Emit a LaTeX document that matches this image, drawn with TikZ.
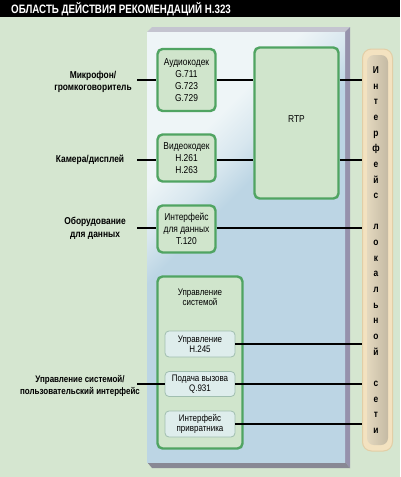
\documentclass[tikz,border=0pt]{standalone}
\usepackage{fontspec}
\setmainfont{Liberation Sans}[FakeStretch=0.84]
\newfontfamily\headfont{Liberation Sans}[FakeStretch=0.8]

\definecolor{bggreen}{RGB}{213,230,208}
\definecolor{paneltop}{RGB}{238,245,247}
\definecolor{panelblue}{RGB}{188,213,228}
\definecolor{edgetop}{RGB}{196,196,208}
\definecolor{edgeside}{RGB}{150,146,172}
\definecolor{edgebottom}{RGB}{136,136,148}
\definecolor{boxfill}{RGB}{208,229,204}
\definecolor{boxgreen}{RGB}{80,164,98}
\definecolor{subfill}{RGB}{222,237,236}
\definecolor{subline}{RGB}{160,190,176}
\definecolor{lancream}{RGB}{243,226,192}
\definecolor{lanedge}{RGB}{226,206,166}
\definecolor{lanlight}{RGB}{228,216,190}
\definecolor{landark}{RGB}{196,186,164}

\pgfdeclareverticalshading{panelfade}{100bp}{color(0bp)=(panelblue); color(57bp)=(panelblue);
	color(62bp)=(panelblue!45!paneltop); color(68bp)=(paneltop); color(100bp)=(paneltop)}

\begin{document}
\begin{tikzpicture}[x=1pt,y=-1pt,
	codec/.style={draw=boxgreen, line width=2.4pt, fill=boxfill, rounded corners=5pt, align=center,
		inner sep=0pt, font=\fontsize{10}{12}\selectfont},
	subbox/.style={draw=subline, line width=0.8pt, fill=subfill, rounded corners=4pt, align=center,
		inner sep=0pt, minimum width=70pt, font=\fontsize{9.5}{10}\selectfont},
	sidelabel/.style={align=center, inner sep=0pt, font=\bfseries\fontsize{10}{12}\selectfont},
	wire/.style={line width=1.3pt}]

\useasboundingbox (0,0) rectangle (400,477);
\fill[bggreen] (0,0) rectangle (400,477);

% title bar
\fill[black] (0,0) rectangle (400,17);
\node[anchor=west, inner sep=0pt, text=white, font=\headfont\bfseries\fontsize{12.2}{12}\selectfont]
	(title) at (11,9) {ОБЛАСТЬ ДЕЙСТВИЯ РЕКОМЕНДАЦИЙ H.323};

% panel
\fill[edgetop] (147,32) -- (152,27) -- (350,27) -- (345,32) -- cycle;
\fill[edgeside] (345,32) -- (350,27) -- (350,468) -- (345,462) -- cycle;
\fill[edgebottom] (147,462) -- (345,462) -- (350,468) -- (152,468) -- cycle;
\shade[shading=panelfade, shading angle=45] (147,32) rectangle (345,462);

% codecs and RTP
\node[codec, minimum width=58pt, minimum height=62pt] (audio) at (186.5,80)
	{Аудиокодек\\G.711\\G.723\\G.729};
\node[codec, minimum width=58pt, minimum height=47pt] (video) at (186.5,158)
	{Видеокодек\\H.261\\H.263};
\node[codec, minimum width=58pt, minimum height=47pt] (data) at (186.5,229)
	{Интерфейс\\для данных\\T.120};
\node[codec, minimum width=84pt, minimum height=151pt, text depth=8pt] (rtp) at (296.5,123) {RTP};

% system control
\node[codec, minimum width=85pt, minimum height=172pt] (sys) at (200,362.5) {};
\node[align=center, inner sep=0pt, font=\fontsize{9.5}{10}\selectfont] (syslabel) at (200,297)
	{Управление\\системой};
\node[subbox, minimum height=26pt] (h245) at (200,344) {Управление\\H.245};
\node[subbox, minimum height=25pt] (call) at (200,384) {Подача вызова\\Q.931};
\node[subbox, minimum height=26pt] (gate) at (200,424) {Интерфейс\\привратника};

% network column
\node[draw=lanedge, line width=1pt, fill=lancream, rounded corners=9pt,
	minimum width=30pt, minimum height=402pt] (lan) at (377.5,250) {};
\node[left color=lanlight, right color=landark, rounded corners=7pt,
	minimum width=21pt, minimum height=390pt] (lanstrip) at (377.5,250) {};
\node[align=center, inner sep=0pt, font=\bfseries\fontsize{10}{15.65}\selectfont] (lantext) at (376,250)
	{И\\н\\т\\е\\р\\ф\\е\\й\\с\\\mbox{}\\л\\о\\к\\а\\л\\ь\\н\\о\\й\\\mbox{}\\с\\е\\т\\и};

% outside equipment
\node[sidelabel] (mic) at (93,82) {Микрофон/\\громкоговоритель};
\node[sidelabel] (cam) at (90,160) {Камера/дисплей};
\node[sidelabel, font=\bfseries\fontsize{10}{12.5}\selectfont] (dataeq) at (95,228.5) {Оборудование\\для данных};
\node[sidelabel, font=\bfseries\fontsize{9.5}{12}\selectfont] (user) at (80,386)
	{Управление системой/\\пользовательский интерфейс};

\coordinate (micwire) at (137,80);
\coordinate (camwire) at (137,160);
\coordinate (datawire) at (137,228);
\coordinate (userwire) at (137,384);

\draw[wire] (micwire) -- (audio.west |- micwire);
\draw[wire] (audio.east |- micwire) -- (rtp.west |- micwire);
\draw[wire] (rtp.east |- micwire) -- (lan.west |- micwire);
\draw[wire] (camwire) -- (video.west |- camwire);
\draw[wire] (video.east |- camwire) -- (rtp.west |- camwire);
\draw[wire] (rtp.east |- camwire) -- (lan.west |- camwire);
\draw[wire] (datawire) -- (data.west |- datawire);
\draw[wire] (data.east |- datawire) -- (lan.west |- datawire);
\draw[wire] (userwire) -- (call.west |- userwire);
\draw[wire] (h245.east) -- (lan.west |- h245.east);
\draw[wire] (call.east) -- (lan.west |- call.east);
\draw[wire] (gate.east) -- (lan.west |- gate.east);

\end{tikzpicture}
\end{document}
